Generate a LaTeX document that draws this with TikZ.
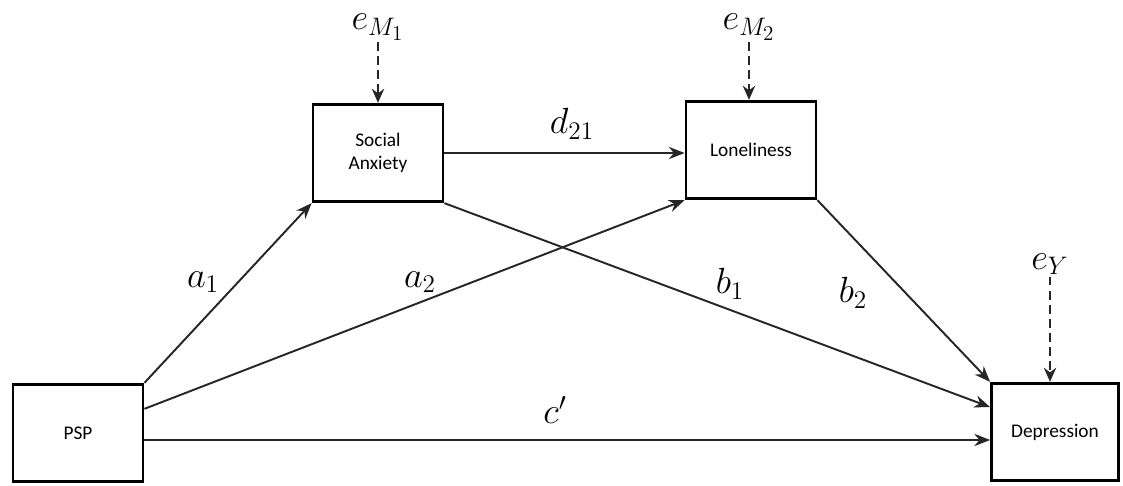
\documentclass[tikz,border=0pt]{standalone}
\usepackage{fontspec}
\newfontfamily\boxfont{Carlito}
\usetikzlibrary{arrows.meta}

\begin{document}
\begin{tikzpicture}[x=0.02cm,y=-0.02cm,
  var/.style={draw,line width=1.6pt,minimum width=2.6cm,minimum height=1.95cm,
    align=center,font=\boxfont\fontsize{11}{13}\selectfont},
  path/.style={-{Stealth[length=9pt,width=7pt]},line width=1.1pt,black!85},
  err/.style={-{Stealth[length=8pt,width=7pt]},line width=1.1pt,dash pattern=on 5pt off 3pt,black!85},
  lab/.style={font=\huge,inner sep=1pt}]
\useasboundingbox (0,0) rectangle (1123,485);
% variables
\node[var] (psp) at (78,433) {PSP};
\node[var] (sa) at (378,153) {Social\\Anxiety};
\node[var] (lon) at (751,150) {Loneliness};
\node[var,minimum width=2.54cm] (dep) at (1055,432) {Depression};
% error terms
\node[lab] (em1) at (378,27) {$e_{M_1}$};
\node[lab] (em2) at (749,27) {$e_{M_2}$};
\node[lab] (ey) at (1050,264) {$e_{Y}$};
\draw[err] (em1) -- (sa.north);
\draw[err] (em2) -- (em2 |- lon.north);
\draw[err] (ey) -- (ey |- dep.north);
% paths
\draw[path] (psp.north east) -- (sa.south west);
\draw[path] (psp.20) -- (lon.south west);
\draw[path] (psp.-6) -- (psp.-6 -| dep.west);
\draw[path] (sa.east) -- (sa.east -| lon.west);
\draw[path] (sa.south east) -- (dep.159);
\draw[path] (lon.south east) -- (dep.north west);
% coefficients
\node[lab] (la1) at (203,282) {$a_1$};
\node[lab] (la2) at (420,282) {$a_2$};
\node[lab] (ld21) at (572,124) {$d_{21}$};
\node[lab] (lb1) at (730,284) {$b_1$};
\node[lab] (lb2) at (853,293) {$b_2$};
\node[lab] (lc) at (555,410) {$c'$};
\end{tikzpicture}
\end{document}
